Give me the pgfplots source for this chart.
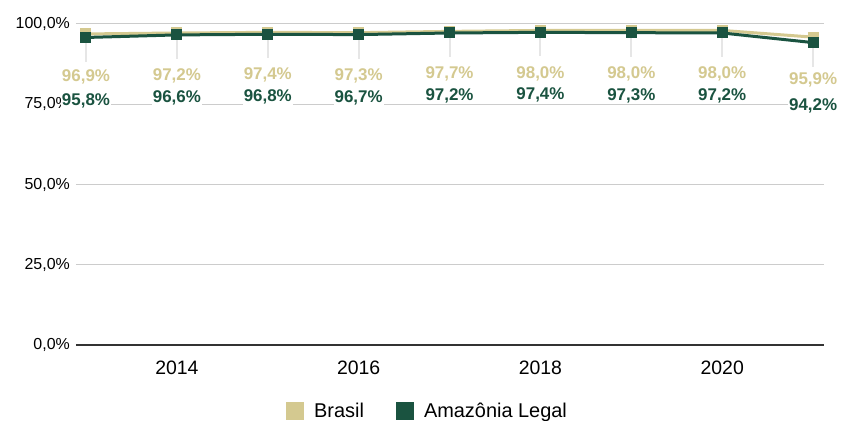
\documentclass[border=0pt]{standalone}
\usepackage{fontspec}
\setmainfont{Liberation Sans}
\usepackage{pgfplots}
\pgfplotsset{compat=1.18}
\definecolor{brasil}{RGB}{212,201,144}
\definecolor{amaz}{RGB}{26,83,64}
\definecolor{leader}{RGB}{230,230,230}
\definecolor{gridc}{RGB}{204,204,204}
\begin{document}
\begin{tikzpicture}
\begin{axis}[name=ax, scale only axis, width=748bp, height=321bp,
 xmin=2012.89, xmax=2021.12, ymin=0, ymax=100,
 xtick={2014,2016,2018,2020}, xticklabels={2014,2016,2018,2020},
 ytick={0,25,50,75,100}, yticklabels={{0,0\%},{25,0\%},{50,0\%},{75,0\%},{100,0\%}},
 ymajorgrids, major grid style={draw=gridc, line width=1bp},
 axis x line*=bottom, axis y line*=left,
 x axis line style={draw=black!80, line width=1.5bp},
 y axis line style={draw=none},
 major tick length=0pt,
 xticklabel style={font=\fontsize{19.5}{22}\selectfont, inner sep=0pt, anchor=north, yshift=-16bp},
 yticklabel style={font=\fontsize{16}{19}\selectfont, inner sep=0pt, anchor=east, xshift=-6bp},
 clip=false,
 /pgf/number format/assume math mode=true,
 legend style={at={(0.47,-0.205)}, anchor=center, draw=none, fill=none, legend columns=2,
   font=\fontsize{20}{24}\selectfont,
   /tikz/every even column/.append style={column sep=30bp},
   /tikz/every odd column/.append style={column sep=8bp},
   nodes={inner sep=2bp}},
]
% leader lines
\addplot[draw=none, forget plot, mark=none,
  error bars/.cd, y dir=minus, y explicit, error mark=none,
  error bar style={line width=2bp, draw=leader}]
 coordinates {(2013,95.8) -= (0,7.5) (2014,96.6) -= (0,7.5) (2015,96.8) -= (0,7.5)
  (2016,96.7) -= (0,7.5) (2017,97.2) -= (0,7.5) (2018,97.4) -= (0,7.5)
  (2019,97.3) -= (0,7.5) (2020,97.2) -= (0,7.5) (2021,94.2) -= (0,7.5)};
% Brasil
\addplot[draw=brasil, line width=3bp, mark=square*, mark size=5bp,
  mark options={fill=brasil, draw=brasil, line width=0pt},
  nodes near coords={\pgfmathprintnumber[fixed,fixed zerofill,precision=1,use comma]{\pgfplotspointmeta}\%},
  nodes near coords align={center},
  every node near coord/.append style={font=\bfseries\fontsize{17}{20}\selectfont, text=brasil,
    anchor=center, yshift=-43bp, fill=white, inner sep=1bp},
  legend image code/.code={\fill[brasil] (0bp,-7.5bp) rectangle (15bp,7.5bp);}]
 coordinates {(2013,96.9) (2014,97.2) (2015,97.4) (2016,97.3) (2017,97.7)
  (2018,98.0) (2019,98.0) (2020,98.0) (2021,95.9)};
\addlegendentry{Brasil}
% Amazonia Legal
\addplot[draw=amaz, line width=3bp, mark=square*, mark size=5bp,
  mark options={fill=amaz, draw=amaz, line width=0pt},
  nodes near coords={\pgfmathprintnumber[fixed,fixed zerofill,precision=1,use comma]{\pgfplotspointmeta}\%},
  nodes near coords align={center},
  every node near coord/.append style={font=\bfseries\fontsize{17}{20}\selectfont, text=amaz,
    anchor=center, yshift=-63bp, fill=white, inner sep=1bp},
  legend image code/.code={\fill[amaz] (0bp,-7.5bp) rectangle (15bp,7.5bp);}]
 coordinates {(2013,95.8) (2014,96.6) (2015,96.8) (2016,96.7) (2017,97.2)
  (2018,97.4) (2019,97.3) (2020,97.2) (2021,94.2)};
\addlegendentry{Amazônia Legal}
\end{axis}
\pgfresetboundingbox
\path ([shift={(-76bp,-76bp)}]ax.south west) rectangle ([shift={(31bp,24bp)}]ax.north east);
\end{tikzpicture}
\end{document}
